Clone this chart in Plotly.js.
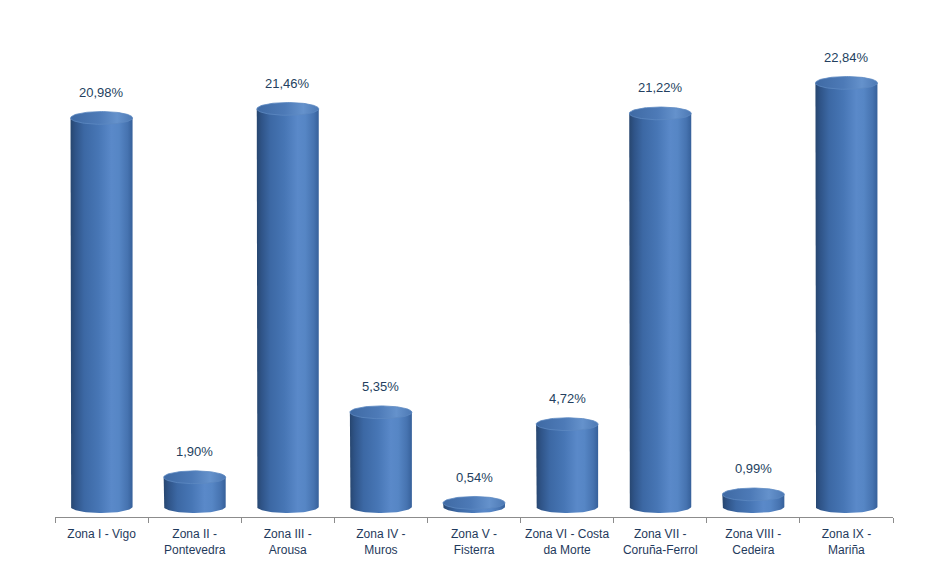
<!DOCTYPE html>
<html>
<head>
<meta charset="utf-8">
<script src="https://cdn.plot.ly/plotly-3.0.1.min.js"></script>
<style>html,body{margin:0;padding:0;background:#fff;}#chart{width:946px;height:575px;}</style>
</head>
<body>
<div id="chart"></div>
<script>
const categories = ["Zona I - Vigo", "Zona II -<br>Pontevedra", "Zona III -<br>Arousa", "Zona IV -<br>Muros", "Zona V -<br>Fisterra", "Zona VI - Costa<br>da Morte", "Zona VII -<br>Coruña-Ferrol", "Zona VIII -<br>Cedeira", "Zona IX -<br>Mariña"];
const values = [20.98, 1.90, 21.46, 5.35, 0.54, 4.72, 21.22, 0.99, 22.84];
const valueLabels = ["20,98%", "1,90%", "21,46%", "5,35%", "0,54%", "4,72%", "21,22%", "0,99%", "22,84%"];

const idx = categories.map((_, i) => i);
const W = 0.666;        // cylinder width in category units
const HU = 0.34;        // ellipse half-height in y units
const N = 48;

const bodyScale = [[0,'#27466f'],[0.08,'#2f5488'],[0.22,'#3c68a4'],[0.45,'#4776b5'],[0.66,'#5a89c9'],[0.78,'#5686c5'],[0.92,'#4673b0'],[1,'#36609a']];
const capScale = [[0,'#3f6aa4'],[0.45,'#4d7ab7'],[0.75,'#6592cc'],[1,'#4d79b4']];

const traces = [];
// invisible data bars (for hover / data)
traces.push({type:'bar', x: idx, y: values, width: W, marker:{color:'rgba(0,0,0,0)'}, hoverinfo:'skip', showlegend:false});

idx.forEach(i => {
  const v = values[i];
  const x0 = i - W/2, x1 = i + W/2;
  const c0 = HU; // bottom ellipse center
  const bx = [], by = [];
  bx.push(x0); by.push(v);
  for (let k = 0; k <= N; k++) {
    const t = Math.PI * k / N;
    bx.push(i - (W/2) * Math.cos(t));
    by.push(c0 - HU * Math.sin(t));
  }
  bx.push(x1); by.push(v);
  bx.push(x0); by.push(v);
  traces.push({type:'scatter', mode:'lines', x: bx, y: by, fill:'toself',
    fillgradient:{type:'horizontal', colorscale: bodyScale},
    line:{width:0, color:'rgba(0,0,0,0)'}, hoverinfo:'skip', showlegend:false});
  const cx = [], cy = [];
  for (let k = 0; k <= 2*N; k++) {
    const t = Math.PI * k / N;
    cx.push(i + (W/2) * Math.cos(t));
    cy.push(v + HU * Math.sin(t));
  }
  traces.push({type:'scatter', mode:'lines', x: cx, y: cy, fill:'toself',
    fillgradient:{type:'horizontal', colorscale: capScale},
    line:{width:0.8, color:'#5d89c2'}, hoverinfo:'skip', showlegend:false});
});

const annotations = idx.map(i => ({
  x: i, y: values[i], xref:'x', yref:'y', text: valueLabels[i], showarrow:false,
  yanchor:'bottom', yshift: 16, font:{family:'Liberation Sans, Arial, sans-serif', size:13, color:'#243f60'}
}));

const layout = {
  width: 946, height: 575,
  margin: {l:55, r:53, t:20, b:58},
  paper_bgcolor:'#ffffff', plot_bgcolor:'#ffffff',
  showlegend:false,
  barmode:'overlay',
  xaxis: {
    range:[-0.5, 8.5], tickmode:'array', tickvals: idx, ticktext: categories,
    ticks:'', ticklabelstandoff: 6, showgrid:false, zeroline:false, showline:true, linecolor:'#8c8c8c', linewidth:1,
    tickfont:{family:'Liberation Sans, Arial, sans-serif', size:12, color:'#1f3a5c'},
    minor:{tick0:0.5, dtick:1, ticks:'outside', ticklen:5, tickcolor:'#8c8c8c', showgrid:false},
    fixedrange:true
  },
  yaxis: {range:[-0.21, 26.18], visible:false, showgrid:false, zeroline:false, fixedrange:true},
  annotations: annotations
};

Plotly.newPlot('chart', traces, layout, {displayModeBar:false, staticPlot:true});
</script>
</body>
</html>
